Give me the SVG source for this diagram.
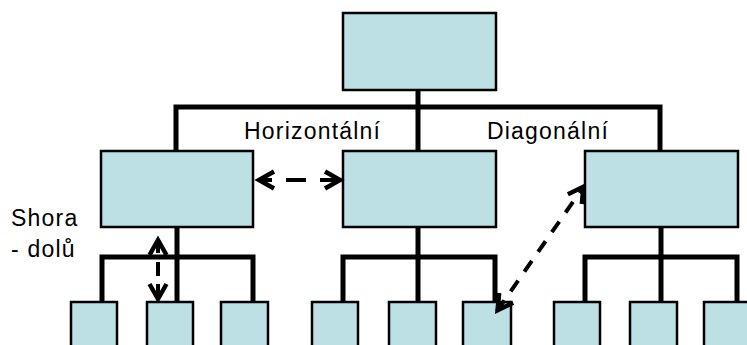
<svg xmlns="http://www.w3.org/2000/svg" width="747" height="345" viewBox="0 0 747 345">
  <style>
    .box { fill: #bce0e3; stroke: #000; stroke-width: 2.5; }
    .tree { fill: none; stroke: #000; stroke-width: 5; stroke-linecap: square; }
    .link { fill: none; stroke: #000; stroke-width: 4; stroke-dasharray: 13 11; marker-start: url(#chev); marker-end: url(#chev); }
    .lbl { font-family: "Liberation Sans", Arial, sans-serif; font-size: 23px; letter-spacing: 1.2px; fill: #000; }
  </style>
  <defs>
    <marker id="chev" viewBox="-20 -12 24 24" markerWidth="24" markerHeight="24" refX="0" refY="0" orient="auto-start-reverse" markerUnits="userSpaceOnUse">
      <path d="M-16,-8.5 L-1,0 L-16,8.5" fill="none" stroke="#000" stroke-width="4.5"/>
    </marker>
  </defs>

  <!-- tree connectors -->
  <g id="connectors">
    <path class="tree" d="M418,90 V151 M176,107 H660 M176,107 V151 M660,107 V151"/>
    <path class="tree" d="M177,227 V302 M102,257 H253 M102,257 V302 M253,257 V302"/>
    <path class="tree" d="M418,227 V302 M343,257 H495 M343,257 V302 M495,257 V302"/>
    <path class="tree" d="M661,227 V302 M585,257 H737 M585,257 V302 M737,257 V302"/>
  </g>

  <g id="root"><rect class="box" x="343" y="13" width="153" height="77"/></g>

  <g id="mid-left"><rect class="box" x="101" y="151" width="152" height="76"/></g>
  <g id="mid-center"><rect class="box" x="343" y="151" width="153" height="76"/></g>
  <g id="mid-right"><rect class="box" x="585" y="151" width="153" height="76"/></g>

  <g id="leaf-1"><rect class="box" x="71" y="302" width="46" height="52"/></g>
  <g id="leaf-2"><rect class="box" x="147" y="302" width="46" height="52"/></g>
  <g id="leaf-3"><rect class="box" x="221" y="302" width="47" height="52"/></g>
  <g id="leaf-4"><rect class="box" x="312" y="302" width="46" height="52"/></g>
  <g id="leaf-5"><rect class="box" x="389" y="302" width="47" height="52"/></g>
  <g id="leaf-6"><rect class="box" x="463" y="302" width="48" height="52"/></g>
  <g id="leaf-7"><rect class="box" x="554" y="302" width="46" height="52"/></g>
  <g id="leaf-8"><rect class="box" x="630" y="302" width="47" height="52"/></g>
  <g id="leaf-9"><rect class="box" x="704" y="302" width="47" height="52"/></g>

  <!-- dashed relation arrows, drawn over the boxes -->
  <g id="relations">
    <path id="arrow-vertical" class="link" style="stroke-dasharray: 14 9 14 8 30" d="M158,239 V300"/>
    <path id="arrow-horizontal" class="link" style="stroke-dasharray: 14 14 20 14 30" d="M258,180 H341"/>
    <path id="arrow-diagonal" class="link" d="M497,311 L584,186"/>
  </g>

  <!-- labels -->
  <g id="labels">
    <text class="lbl" x="244" y="139">Horizontální</text>
    <text class="lbl" x="487" y="139">Diagonální</text>
    <text class="lbl" x="11" y="226">Shora</text>
    <text class="lbl" x="11" y="257">- dolů</text>
  </g>
</svg>
